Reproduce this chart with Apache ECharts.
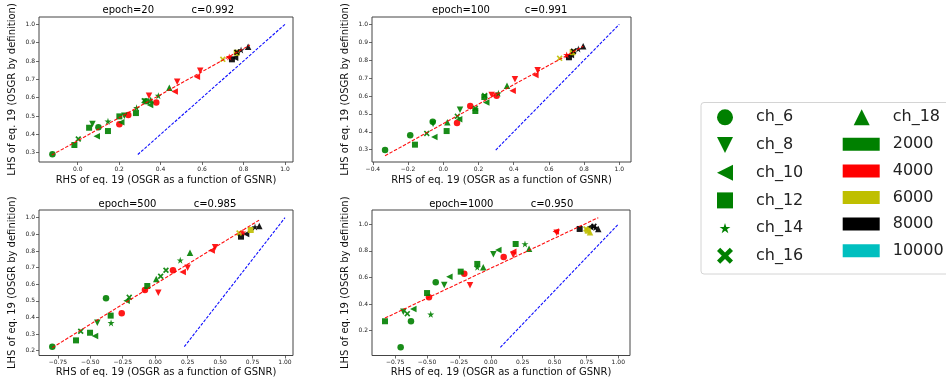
<!DOCTYPE html>
<html><head><meta charset="utf-8">
<script src="https://cdn.jsdelivr.net/npm/echarts@6/dist/echarts.min.js"></script>
<style>html,body{margin:0;padding:0;background:#fff}#c{width:946px;height:384px}</style>
</head><body><div id="c"></div>
<script>
// ---------------- data ----------------
const chValues = [6, 8, 10, 12, 14, 16, 18];
const setValues = [2000, 4000, 6000, 8000, 10000];
const epochs = [20, 100, 500, 1000];
const cValues = ['0.992', '0.991', '0.985', '0.950'];

// epoch = 20
const e20X = [-0.122,-0.016,0.003,0.055,0.071,0.100,0.092,0.146,0.146,0.201,0.201,0.210,0.225,0.244,0.281,0.284,0.321,0.330,0.344,0.352,0.349,0.379,0.389,0.442,0.468,0.480,0.575,0.591,0.700,0.731,0.744,0.759,0.767,0.768,0.788,0.822];
const e20Y = [0.291,0.342,0.375,0.436,0.456,0.438,0.389,0.471,0.418,0.498,0.455,0.466,0.502,0.505,0.516,0.545,0.583,0.580,0.611,0.587,0.560,0.573,0.611,0.654,0.633,0.687,0.714,0.747,0.809,0.822,0.809,0.818,0.845,0.848,0.860,0.878];
const e20Ch = [6,12,16,12,8,6,10,14,12,12,6,10,8,6,12,14,16,12,8,18,10,6,14,18,10,8,10,8,16,14,12,10,12,16,14,18];
const e20Set = [2000,2000,2000,2000,2000,2000,2000,2000,2000,2000,4000,2000,2000,4000,2000,2000,2000,2000,4000,2000,2000,4000,2000,2000,4000,4000,4000,4000,6000,4000,8000,8000,6000,8000,8000,8000];
const e20Fit = [[-0.125, 0.287], [0.831, 0.887]];
const e20Ident = [0.29, 1.0];

// epoch = 100
const e100X = [-0.331,-0.188,-0.161,-0.094,-0.060,-0.058,-0.051,0.019,0.023,0.078,0.080,0.090,0.095,0.153,0.182,0.182,0.233,0.235,0.244,0.275,0.303,0.313,0.362,0.394,0.407,0.523,0.536,0.661,0.701,0.714,0.725,0.735,0.740,0.767,0.795];
const e100Y = [0.298,0.380,0.328,0.391,0.456,0.445,0.371,0.404,0.453,0.449,0.486,0.470,0.523,0.544,0.516,0.530,0.594,0.602,0.564,0.605,0.601,0.615,0.657,0.629,0.693,0.717,0.743,0.810,0.829,0.816,0.829,0.844,0.850,0.862,0.877];
const e100Ch = [6,6,12,16,6,8,10,12,18,6,16,10,8,6,12,16,12,16,10,8,6,14,18,10,8,10,8,16,14,12,10,12,16,14,18];
const e100Set = [2000,2000,2000,2000,2000,2000,2000,2000,2000,4000,2000,2000,2000,4000,2000,2000,2000,2000,2000,4000,4000,2000,2000,4000,4000,4000,4000,6000,4000,8000,8000,6000,8000,8000,8000];
const e100Fit = [[-0.331, 0.266], [0.795, 0.877]];
const e100Ident = [0.298, 1.0];

// epoch = 500
const e500X = [-0.793,-0.610,-0.574,-0.502,-0.464,-0.446,-0.379,-0.343,-0.340,-0.258,-0.220,-0.200,-0.079,-0.061,0.024,0.008,0.042,0.083,0.137,0.212,0.193,0.268,0.250,0.435,0.461,0.646,0.661,0.675,0.700,0.736,0.769,0.802];
const e500Y = [0.224,0.262,0.317,0.308,0.288,0.368,0.515,0.411,0.367,0.425,0.501,0.521,0.565,0.589,0.549,0.631,0.648,0.684,0.684,0.673,0.744,0.789,0.699,0.802,0.822,0.908,0.886,0.912,0.902,0.926,0.944,0.950];
const e500Ch = [6,12,16,12,10,8,6,12,14,6,10,16,6,12,8,18,16,16,6,10,14,18,8,10,8,16,12,14,10,12,14,18];
const e500Set = [2000,2000,2000,2000,2000,2000,2000,2000,2000,4000,2000,2000,4000,2000,4000,2000,2000,2000,4000,4000,2000,2000,4000,4000,4000,6000,8000,4000,8000,6000,8000,8000];
const e500Fit = [[-0.793, 0.218], [0.800, 0.985]];
const e500Ident = [0.224, 1.0];

// epoch = 1000
const e1000X = [-0.707,-0.830,-0.626,-0.686,-0.655,-0.608,-0.471,-0.500,-0.485,-0.432,-0.365,-0.325,-0.236,-0.208,-0.163,-0.106,-0.106,-0.059,0.020,0.059,0.101,0.176,0.176,0.195,0.268,0.300,0.517,0.510,0.697,0.747,0.760,0.778,0.778,0.809,0.820,0.843];
const e1000Y = [0.075,0.271,0.271,0.343,0.328,0.363,0.323,0.483,0.451,0.564,0.544,0.606,0.644,0.629,0.541,0.702,0.677,0.677,0.774,0.807,0.754,0.794,0.769,0.852,0.852,0.817,0.937,0.945,0.965,0.965,0.952,0.940,0.980,0.985,0.975,0.965];
const e1000Ch = [6,12,6,8,16,10,14,12,6,6,8,10,12,6,8,12,14,18,8,10,6,10,8,12,14,18,8,10,12,16,12,18,10,16,14,18];
const e1000Set = [2000,2000,2000,2000,2000,2000,2000,2000,4000,2000,2000,2000,2000,4000,4000,2000,2000,2000,2000,2000,4000,4000,4000,2000,2000,2000,4000,4000,8000,6000,6000,6000,8000,8000,8000,8000];
const e1000Fit = [[-0.830, 0.295], [0.843, 1.050]];
const e1000Ident = [0.075, 1.0];

// tick labels
const xTicks20 = [0.0, 0.2, 0.4, 0.6, 0.8, 1.0];
const yTicks20 = [0.3, 0.4, 0.5, 0.6, 0.7, 0.8, 0.9, 1.0];
const xTicks100 = [-0.4, -0.2, 0.0, 0.2, 0.4, 0.6, 0.8, 1.0];
const yTicks100 = [0.3, 0.4, 0.5, 0.6, 0.7, 0.8, 0.9, 1.0];
const xTicks500 = [-0.75, -0.5, -0.25, 0.0, 0.25, 0.5, 0.75, 1.0];
const yTicks500 = [0.2, 0.3, 0.4, 0.5, 0.6, 0.7, 0.8, 0.9, 1.0];
const xTicks1000 = [-0.75, -0.5, -0.25, 0.0, 0.25, 0.5, 0.75, 1.0];
const yTicks1000 = [0.2, 0.4, 0.6, 0.8, 1.0];

const xName = 'RHS of eq. 19 (OSGR as a function of GSNR)';
const yName = 'LHS of eq. 19 (OSGR by definition)';

// ---------------- styles / layout ----------------
const FONT = 'DejaVu Sans';
const setColors = {2000:'#008000', 4000:'#ff0000', 6000:'#bfbf00', 8000:'#000000', 10000:'#00bfbf'};
const chSymbols = {
  6: 'circle',
  8: 'path://M0,0L10,0L5,10Z',
  10: 'path://M10,0L10,10L0,5Z',
  12: 'path://M0,0L10,0L10,10L0,10Z',
  14: 'path://M10,0L12.245,6.91L19.511,6.91L13.633,11.18L15.878,18.09L10,13.82L4.122,18.09L6.367,11.18L0.489,6.91L7.755,6.91Z',
  16: 'path://M2,0L5,3L8,0L10,2L7,5L10,8L8,10L5,7L2,10L0,8L3,5L0,2Z',
  18: 'path://M5,0L10,10L0,10Z'
};
const chSizes = {6:6.5, 8:6.5, 10:6.5, 12:6, 14:7, 16:6, 18:6.5};
const legendStar = 'path://M-4,-4M10,0L12.245,6.91L19.511,6.91L13.633,11.18L15.878,18.09L10,13.82L4.122,18.09L6.367,11.18L0.489,6.91L7.755,6.91ZM24,22';

const panels = [
  {X:e20X, Y:e20Y, Ch:e20Ch, Set:e20Set, fit:e20Fit, ident:e20Ident, xt:xTicks20, yt:yTicks20, xd:1, yd:1,
   grid:{left:39, top:17, width:254, height:145}, xr:[-0.1867, 1.0386], yr:[0.2492, 1.0398], t:[128.3, 212.8, 10]},
  {X:e100X, Y:e100Y, Ch:e100Ch, Set:e100Set, fit:e100Fit, ident:e100Ident, xt:xTicks100, yt:yTicks100, xd:1, yd:1,
   grid:{left:372, top:17, width:259, height:145}, xr:[-0.4051, 1.0665], yr:[0.2312, 1.0408], t:[461, 546, 10]},
  {X:e500X, Y:e500Y, Ch:e500Ch, Set:e500Set, fit:e500Fit, ident:e500Ident, xt:xTicks500, yt:yTicks500, xd:2, yd:1,
   grid:{left:39, top:210, width:254, height:145.5}, xr:[-0.8952, 1.0616], yr:[0.1711, 1.0463], t:[127.5, 215, 204]},
  {X:e1000X, Y:e1000Y, Ch:e1000Ch, Set:e1000Set, fit:e1000Fit, ident:e1000Ident, xt:xTicks1000, yt:yTicks1000, xd:2, yd:1,
   grid:{left:372, top:210, width:258, height:145.5}, xr:[-0.9318, 1.0918], yr:[0.0135, 1.1075], t:[461.3, 552, 204]}
];

function fmt(d) { return v => (v < 0 ? '\u2212' : '') + Math.abs(v).toFixed(d); }

const grids = [], xAxes = [], yAxes = [], series = [], graphics = [];
panels.forEach((p, i) => {
  grids.push(Object.assign({show:true, borderColor:'#444', borderWidth:1, backgroundColor:'transparent', containLabel:false}, p.grid));
  xAxes.push({
    type:'value', gridIndex:i, min:p.xr[0], max:p.xr[1], position:'bottom',
    axisLine:{show:false, onZero:false}, splitLine:{show:false},
    axisTick:{show:true, length:3, customValues:p.xt, lineStyle:{color:'#444', width:0.8}},
    axisLabel:{customValues:p.xt, formatter:fmt(p.xd), fontSize:6, fontFamily:FONT, color:'#222', margin:4},
    name:xName, nameLocation:'middle', nameGap: i < 2 ? 13 : 12,
    nameTextStyle:{fontSize:10, fontFamily:FONT, color:'#111'}
  });
  yAxes.push({
    type:'value', gridIndex:i, min:p.yr[0], max:p.yr[1], position:'left',
    axisLine:{show:false, onZero:false}, splitLine:{show:false},
    axisTick:{show:true, length:3, customValues:p.yt, lineStyle:{color:'#444', width:0.8}},
    axisLabel:{customValues:p.yt, formatter:fmt(p.yd), fontSize:6, fontFamily:FONT, color:'#222', margin:4},
    name:yName, nameLocation:'middle', nameGap: 22,
    nameTextStyle:{fontSize:10, fontFamily:FONT, color:'#111'}
  });
  chValues.forEach(ch => {
    const data = [];
    p.X.forEach((x, k) => {
      if (p.Ch[k] === ch) data.push({value:[x, p.Y[k]], itemStyle:{color:setColors[p.Set[k]]}});
    });
    series.push({
      type:'scatter', name:'ch_' + ch, xAxisIndex:i, yAxisIndex:i,
      symbol:chSymbols[ch], symbolSize:chSizes[ch],
      itemStyle:{color:'#008000', opacity:0.9}, data, z:2, silent:true
    });
  });
  series.push({
    type:'line', xAxisIndex:i, yAxisIndex:i, data:p.fit, symbol:'none', silent:true, z:3,
    lineStyle:{color:'#ff0000', width:1.1, type:[3.5, 1.6], opacity:0.95}
  });
  series.push({
    type:'line', xAxisIndex:i, yAxisIndex:i, data:[[p.ident[0], p.ident[0]], [p.ident[1], p.ident[1]]],
    symbol:'none', silent:true, z:3,
    lineStyle:{color:'#0000ff', width:1.1, type:[3, 1.5], opacity:0.95}
  });
  graphics.push({type:'text', x:p.t[0], y:p.t[2], style:{text:'epoch=' + epochs[i], fill:'#000',
    font:'10px "DejaVu Sans"', textAlign:'center', verticalAlign:'middle'}});
  graphics.push({type:'text', x:p.t[1], y:p.t[2], style:{text:'c=' + cValues[i], fill:'#000',
    font:'10px "DejaVu Sans"', textAlign:'center', verticalAlign:'middle'}});
});

setValues.forEach(s => {
  series.push({type:'scatter', name:String(s), xAxisIndex:0, yAxisIndex:0, data:[], itemStyle:{color:setColors[s]}});
});

graphics.push({type:'rect', shape:{x:701, y:102.5, width:260, height:171.5, r:3},
  style:{fill:'#fff', stroke:'#d4d4d4', lineWidth:1}, z:-10});

const legTS = {fontSize:16, fontFamily:FONT, color:'#222'};
const option = {
  animation:false,
  backgroundColor:'#fff',
  grid:grids, xAxis:xAxes, yAxis:yAxes, series,
  graphic:{elements:graphics},
  legend:[
    {orient:'vertical', left:717, top:109.3, padding:0, itemWidth:16, itemHeight:16, itemGap:11.7, selectedMode:false,
     itemStyle:{opacity:1},
     data:[6,8,10,12,14,16].map(c => ({name:'ch_' + c, icon: c === 14 ? legendStar : chSymbols[c]})),
     textStyle:Object.assign({padding:[0,0,0,18]}, legTS)},
    {orient:'vertical', left:853.7, top:109.3, padding:0, itemWidth:16, itemHeight:16, selectedMode:false,
     itemStyle:{opacity:1},
     data:[{name:'ch_18', icon:chSymbols[18]}],
     textStyle:Object.assign({padding:[0,0,0,18]}, legTS)},
    {orient:'vertical', left:842.7, top:136.3, padding:0, itemWidth:37, itemHeight:13, itemGap:10.6, selectedMode:false,
     itemStyle:{opacity:1},
     data:setValues.map(s => ({name:String(s), icon:'rect'})),
     textStyle:Object.assign({padding:[0,0,0,8]}, legTS)}
  ]
};
echarts.init(document.getElementById('c'), null, {renderer:'canvas'}).setOption(option);
</script></body></html>
